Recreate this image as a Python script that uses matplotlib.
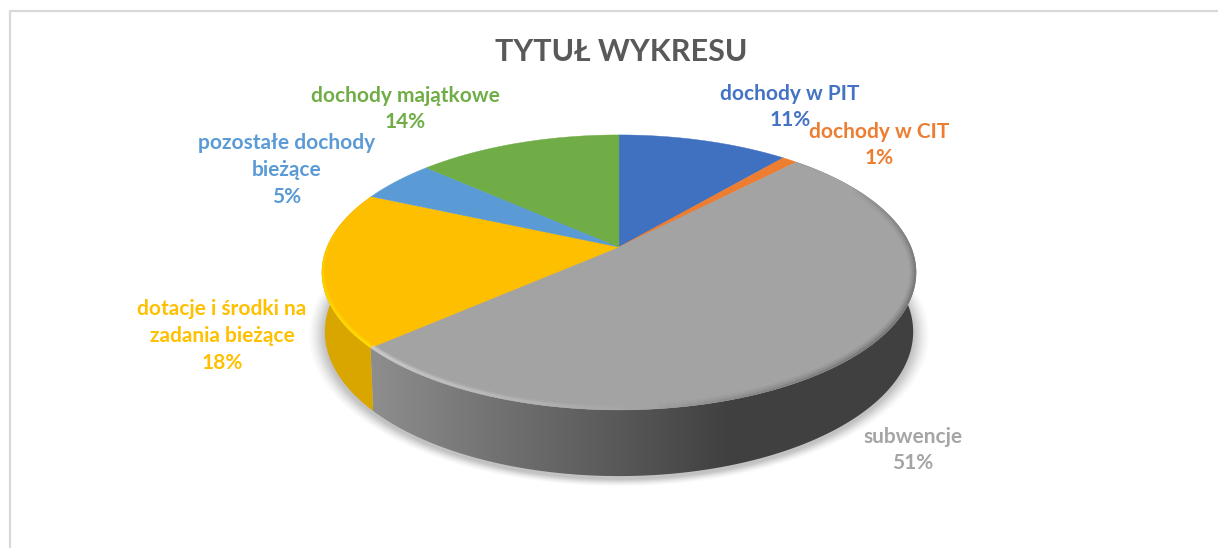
import numpy as np
import matplotlib
matplotlib.use("Agg")
import matplotlib.pyplot as plt
from matplotlib.patches import Polygon
from matplotlib.colors import LinearSegmentedColormap

plt.rcParams['font.family'] = ['Lato', 'DejaVu Sans']

#%% dane
title = "TYTUŁ WYKRESU"
categories = ["dochody w PIT", "dochody w CIT", "subwencje",
              "dotacje i środki na\nzadania bieżące", "pozostałe dochody\nbieżące",
              "dochody majątkowe"]
shares = [11.1, 1.0, 51.3, 18.3, 5.0, 13.3]
percent_labels = ["11%", "1%", "51%", "18%", "5%", "14%"]
colors = ["#4070C0", "#ED7D31", "#A3A3A3", "#FDBF00", "#5B9BD5", "#70AD47"]
text_colors = ["#4472C4", "#ED7D31", "#A5A5A5", "#FFC000", "#5B9BD5", "#70AD47"]
# srodek etykiety w pikselach
label_x = [790, 879, 913, 222, 287, 405]
label_y = [107, 145, 450, 336, 170, 109]

#%% rzut perspektywiczny kola
CX, CY = 619, 247
A, B, P = 292, 132.8, 0.185


def rim_top(t):
    # t: kat w stopniach zgodnie z zegarem od gory
    u, v = np.sin(np.radians(t)), np.cos(np.radians(t))
    w = 1 + P * v
    return CX + A * u / w, CY - B * v / w


def rim_bottom(t):
    x, y = rim_top(t)
    return CX + 0.99 * (x - CX), CY + 1.05 * (y - CY) + 58


fig = plt.figure(figsize=(12.18, 5.48), dpi=100)
ax = fig.add_axes([0, 0, 1, 1])
ax.set_xlim(0, 1218)
ax.set_ylim(548, 0)
ax.axis("off")

# ramka
ax.plot([9.5, 9.5, 1218], [548, 10.5, 10.5], color="#D9D9D9", lw=1.6, solid_capstyle="butt")

edges = np.cumsum([0] + shares) * 3.6
full = np.linspace(0, 360, 361)

# cien pod wykresem
bx, by = rim_bottom(full)
for grow, alpha in zip(np.linspace(16, 1, 12), np.linspace(0.012, 0.03, 12)):
    sx = CX + (bx - CX) * (1 + grow / 290)
    sy = by + 3 + grow * 0.45 * np.sign(by - 320) * np.abs((by - 320) / 157)
    ax.add_patch(Polygon(np.c_[sx, sy], fc="black", ec="none", alpha=alpha, zorder=1))


def wall(t0, t1):
    t = np.linspace(t0, t1, 200)
    return np.r_[np.c_[rim_top(t)], np.c_[rim_bottom(t[::-1])]]


# boczna sciana - szara z gradientem
grey_cmap = LinearSegmentedColormap.from_list(
    "side", [(0, "#8E8E8E"), (0.35, "#727272"), (0.7, "#585858"), (1, "#404040")])
grad = np.linspace(0, 1, 512).reshape(1, -1)
im = ax.imshow(grad, extent=[370, 730, 548, 0], cmap=grey_cmap, aspect="auto", zorder=2)
poly = Polygon(wall(edges[2], edges[3]), transform=ax.transData, fc="none", ec="none")
ax.add_patch(poly)
im.set_clip_path(poly)
im2 = ax.imshow([[1]], extent=[730, 930, 548, 0], cmap=grey_cmap, vmin=0, vmax=1, aspect="auto", zorder=2)
poly2 = Polygon(wall(edges[2], edges[3]), transform=ax.transData, fc="none", ec="none")
ax.add_patch(poly2)
im2.set_clip_path(poly2)
ax.set_xlim(0, 1218)
ax.set_ylim(548, 0)

# sciana zolta
ax.add_patch(Polygon(wall(edges[3], edges[4]), fc="#D9A600", ec="none", zorder=2))

# gorna powierzchnia
for i, c in enumerate(colors):
    t = np.linspace(edges[i], edges[i + 1], 120)
    x, y = rim_top(t)
    pts = np.r_[[[CX, CY]], np.c_[x, y]]
    ax.add_patch(Polygon(pts, fc=c, ec=c, lw=0.3, zorder=3))

# maska do fazy, zeby nie wychodzila poza gorna powierzchnie
disc = Polygon(np.c_[rim_top(full)], transform=ax.transData, fc="none", ec="none")
ax.add_patch(disc)


def bevel(t0, t1, color, widths, alphas, fade):
    # fade: funkcja 0..1 -> mnoznik przezroczystosci wzdluz krawedzi
    t = np.linspace(t0, t1, 90)
    x, y = rim_top(t)
    for lw, a in zip(widths, alphas):
        for k in range(len(t) - 1):
            f = fade(k / (len(t) - 2))
            ln, = ax.plot(x[k:k + 2], y[k:k + 2], color=color, lw=lw, alpha=a * f, zorder=4,
                          solid_capstyle="butt")
            ln.set_clip_path(disc)


# jasna krawedz na szarym, zolta z lewej, ciemna z prawej
bevel(175, edges[3], "#E0E0E0", [7, 4.5], [0.25, 0.5], lambda f: f)
bevel(edges[3] + 0.3, 282, "#FFDF00", [5.5, 3.5], [0.4, 0.8], lambda f: 1 - f)
bevel(60, 175, "#303030", [9, 6, 3], [0.08, 0.12, 0.2], lambda f: np.sin(np.pi * f) ** 0.7)

# tytul i etykiety
ax.text(621, 52, title, ha="center", va="center", fontsize=22, fontweight="bold", color="#595959", zorder=6)
for name, s, c, lx, ly in zip(categories, percent_labels, text_colors, label_x, label_y):
    ax.text(lx, ly, f"{name}\n{s}", ha="center", va="center", fontsize=15, fontweight="bold",
            color=c, linespacing=1.42, zorder=6)

fig.savefig("out.png", dpi=100)
